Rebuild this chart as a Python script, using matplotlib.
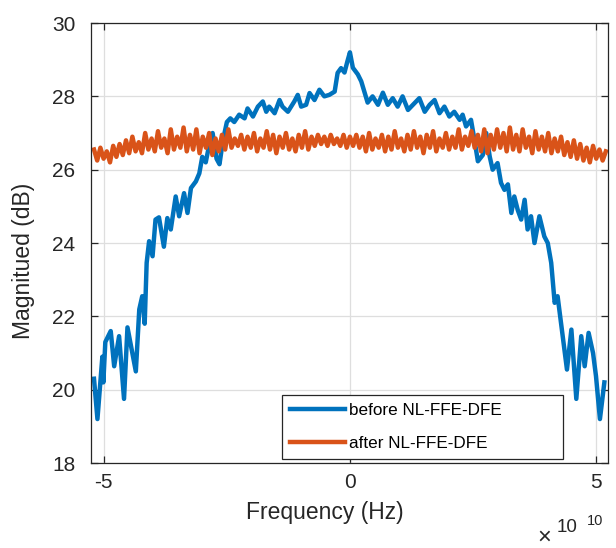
import numpy as np
import matplotlib.pyplot as plt

# spectrum before equalizer (freq in units of 1e10 Hz, magnitude in dB)
before_freq = [-5.2, -5.13, -5.03, -5.01, -4.97, -4.86, -4.79, -4.69, -4.59, -4.52,
               -4.42, -4.35, -4.28, -4.22, -4.17, -4.13, -4.08, -4.01, -3.95, -3.88,
               -3.78, -3.71, -3.64, -3.54, -3.47, -3.37, -3.30, -3.23, -3.13, -3.06,
               -3.0, -2.93, -2.87, -2.79, -2.71, -2.65, -2.58, -2.50, -2.43, -2.35,
               -2.25, -2.14, -2.08, -1.97, -1.87, -1.77, -1.70, -1.64, -1.53, -1.43,
               -1.37, -1.26, -1.13, -1.06, -0.99, -0.89, -0.82, -0.72, -0.62, -0.52,
               -0.42, -0.31, -0.25, -0.18, -0.11, -0.05, 0.0, 0.06, 0.16, 0.23,
               0.30, 0.36, 0.46, 0.57, 0.67, 0.77, 0.87, 0.97, 1.07, 1.18,
               1.28, 1.41, 1.52, 1.62, 1.72, 1.82, 1.92, 2.02, 2.12, 2.23,
               2.29, 2.36, 2.46, 2.53, 2.60, 2.70, 2.77, 2.84, 2.90, 3.0,
               3.07, 3.14, 3.21, 3.28, 3.34, 3.41, 3.48, 3.55, 3.61, 3.68,
               3.75, 3.85, 3.95, 4.02, 4.09, 4.16, 4.22, 4.29, 4.36, 4.41,
               4.50, 4.60, 4.70, 4.77, 4.85, 4.94, 5.0, 5.08, 5.17]
before_mag = [20.3, 19.2, 20.9, 20.2, 21.3, 21.6, 20.64, 21.46, 19.75, 21.7,
              21.0, 20.5, 22.19, 22.55, 21.8, 23.46, 24.05, 23.64, 24.64, 24.7,
              23.9, 24.68, 24.37, 25.27, 24.73, 25.36, 24.82, 25.5, 25.68, 25.9,
              26.35, 26.2, 26.6, 27.0, 26.3, 26.15, 26.8, 27.3, 27.4, 27.3,
              27.5, 27.4, 27.67, 27.45, 27.72, 27.86, 27.58, 27.72, 27.54, 27.9,
              27.72, 27.58, 27.86, 28.04, 27.72, 27.77, 28.09, 27.9, 28.18, 28.0,
              28.04, 28.13, 28.64, 28.77, 28.65, 28.96, 29.2, 28.78, 28.6, 28.41,
              28.1, 27.83, 28.0, 27.77, 28.1, 27.77, 27.95, 27.72, 28.0, 27.63,
              27.77, 27.95, 27.58, 27.77, 27.9, 27.54, 27.72, 27.45, 27.58, 27.36,
              27.5, 27.18, 27.36, 26.82, 26.23, 26.4, 27.0, 26.36, 26.0, 26.18,
              25.64, 25.45, 25.6, 24.82, 25.27, 24.9, 24.64, 25.18, 24.37, 24.73,
              24.0, 24.73, 24.18, 24.0, 23.46, 22.37, 22.55, 21.82, 21.09, 20.55,
              21.64, 19.75, 21.46, 20.64, 21.55, 21.0, 20.37, 19.2, 20.2]

# spectrum after equalizer, 161 bins from -5.2e10 to 5.2e10
after_freq = np.linspace(-5.2, 5.2, 161)
after_mag = [26.55, 26.25, 26.6, 26.3, 26.5, 26.2, 26.65, 26.35, 26.7, 26.4,
             26.8, 26.45, 26.9, 26.5, 26.75, 26.45, 27.0, 26.55, 26.85, 26.5,
             27.05, 26.6, 26.85, 26.45, 27.1, 26.55, 26.9, 26.6, 27.15, 26.5,
             26.95, 26.55, 27.1, 26.45, 26.9, 26.6, 27.0, 26.4, 26.85, 26.5,
             26.95, 26.55, 27.1, 26.6, 26.85, 26.65, 26.95, 26.55, 26.9, 26.6,
             27.0, 26.5, 26.85, 26.6, 27.05, 26.55, 26.95, 26.45, 26.9, 26.6,
             27.0, 26.55, 26.85, 26.5, 26.95, 26.6, 27.05, 26.55, 26.9, 26.65,
             26.95, 26.7, 26.9, 26.65, 26.95, 26.7, 26.85, 26.65, 26.95, 26.6,
             26.9,
             26.65, 26.95, 26.6, 26.9, 26.5, 27.0, 26.55, 26.85, 26.6, 26.95,
             26.5, 26.9, 26.55, 27.05, 26.6, 26.85, 26.5, 26.95, 26.55, 27.05,
             26.6, 26.9, 26.45, 26.95, 26.6, 27.05, 26.5, 26.85, 26.6, 27.0,
             26.55, 26.9, 26.6, 27.1, 26.55, 26.9, 26.65, 27.05, 26.6, 26.95,
             26.5, 27.1, 26.45, 26.95, 26.55, 27.1, 26.6, 27.0, 26.5, 27.15,
             26.55, 26.95, 26.5, 27.1, 26.6, 26.9, 26.45, 27.05, 26.55, 26.9,
             26.5, 27.0, 26.45, 26.85, 26.5, 26.9, 26.4, 26.75, 26.35, 26.8,
             26.3, 26.7, 26.25, 26.6, 26.2, 26.65, 26.3, 26.55, 26.25, 26.5]

x_ticks = [-5, 0, 5]
y_ticks = [18, 20, 22, 24, 26, 28, 30]

plt.rcParams['font.family'] = ['Liberation Sans', 'DejaVu Sans']

fig = plt.figure(figsize=(6.16, 5.48), dpi=100)
ax = fig.add_axes([0.147, 0.155, 0.8405, 0.803])

ax.plot(before_freq, before_mag, color='#0072BD', lw=3.2, label='before NL-FFE-DFE')
ax.plot(after_freq, after_mag, color='#D95319', lw=3.2, label='after NL-FFE-DFE')

ax.set_xlim(-5.27, 5.25)
ax.set_ylim(18, 30)
ax.set_xticks(x_ticks)
ax.set_xticklabels([str(t) for t in x_ticks])
ax.set_yticks(y_ticks)

ax.grid(True, color='#dedede', lw=0.9)
ax.set_axisbelow(True)
for sp in ax.spines.values():
    sp.set_color('#262626')
    sp.set_linewidth(0.9)
ax.tick_params(direction='in', length=5, width=0.9, color='#262626',
               top=True, right=True, labelsize=15, labelcolor='#262626')
ax.tick_params(axis='y', pad=11)
ax.tick_params(axis='x', pad=7)

ax.set_xlabel('Frequency (Hz)', fontsize=16.5, color='#262626')
ax.set_ylabel('Magnitued (dB)', fontsize=16.5, color='#262626')
ax.xaxis.set_label_coords(0.452, -0.087)
ax.yaxis.set_label_coords(-0.108, 0.46)

# MATLAB style exponent under the right end of the x axis
fig.text(544 / 616, 1 - 538 / 548, '\u00d7', fontsize=17, color='#262626', ha='center', va='center')
fig.text(567 / 616, 1 - 528 / 548, '10', fontsize=13.5, color='#262626', ha='center', va='center')
fig.text(595 / 616, 1 - 521 / 548, '10', fontsize=10.5, color='#262626', ha='center', va='center')

leg = ax.legend(loc='lower left', bbox_to_anchor=(0.3695, 0.009, 0.543, 0.15), mode='expand',
                fontsize=12.3, fancybox=False, framealpha=1, edgecolor='#262626',
                handlelength=3.2, handletextpad=0.25, borderpad=0.5, labelspacing=1.0,
                borderaxespad=0)
leg.get_frame().set_linewidth(0.9)

plt.savefig('out.png', dpi=100)
